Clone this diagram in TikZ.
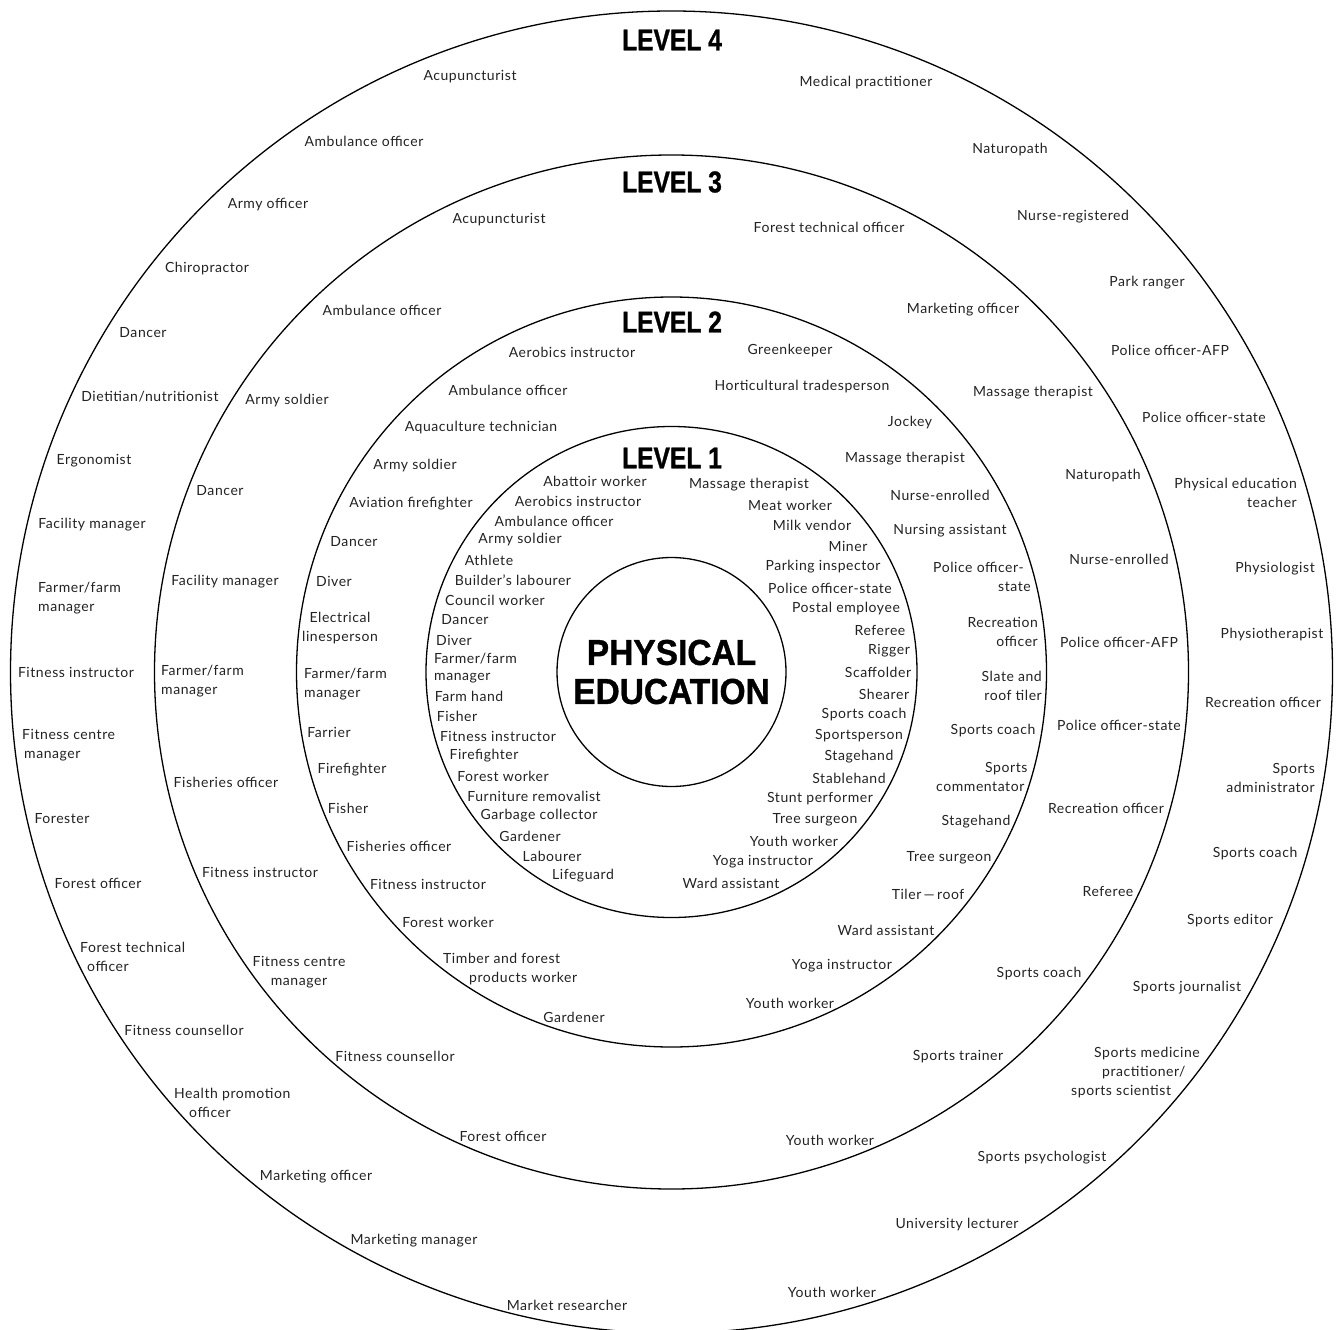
\documentclass[tikz,border=0pt]{standalone}
\usepackage{fontspec}
\newfontfamily\jobfont{Lato}[LetterSpace=4]
\newfontfamily\lvfont{Liberation Sans}[FakeStretch=0.82,FakeBold=1]
\newfontfamily\pefont{Liberation Sans}[FakeStretch=0.93,FakeBold=1]
\definecolor{txt}{HTML}{222222}
\tikzset{
  ring/.style={draw=black, line width=1.3pt, circle, inner sep=0pt},
  lbl/.style={inner sep=0pt, text=txt, font={\jobfont\fontsize{14}{19}\selectfont}},
  lbla/.style={lbl, align=left},
  lblr/.style={lbl, align=right},
  lblc/.style={lbl, align=center},
  lvl/.style={inner sep=0pt, text=black, font={\lvfont\bfseries\fontsize{30}{30}\selectfont}},
  core/.style={ring, minimum size=229pt, align=center, font={\pefont\bfseries\fontsize{36}{39}\selectfont}}
}
\begin{document}
\begin{tikzpicture}[x=1pt,y=-1pt]
\useasboundingbox (0,0) rectangle (1337,1329);
\coordinate (ctr) at (671.5,672);
% rings
\node[ring, minimum size=1322pt] (r4) at (ctr) {};
\node[ring, minimum size=1034pt] (r3) at (ctr) {};
\node[ring, minimum size=750pt] (r2) at (ctr) {};
\node[ring, minimum size=491pt] (r1) at (ctr) {};
\node[core] (pe) at (ctr) {PHYSICAL\\EDUCATION};
% level titles
\node[lvl] (t4) at (672,40) {LEVEL 4};
\node[lvl] (t3) at (672,182) {LEVEL 3};
\node[lvl] (t2) at (672,322) {LEVEL 2};
\node[lvl] (t1) at (672,458) {LEVEL 1};
% ---------- Level 4 ----------
\node[lbl] (a1) at (470,77) {Acupuncturist};
\node[lbl] (a2) at (866,83) {Medical practitioner};
\node[lbl] (a3) at (364,141) {Ambulance officer};
\node[lbl] (a4) at (1010,150) {Naturopath};
\node[lbl] (a5) at (268,205) {Army officer};
\node[lbl] (a6) at (1073,217) {Nurse-registered};
\node[lbl] (a7) at (207,269) {Chiropractor};
\node[lbl] (a8) at (1147,283) {Park ranger};
\node[lbl] (a9) at (143,333) {Dancer};
\node[lbl] (a10) at (1170,350) {Police officer-AFP};
\node[lbl] (a11) at (150,397) {Dietitian/nutritionist};
\node[lbl] (a12) at (1204,417) {Police officer-state};
\node[lbl] (a13) at (94,461) {Ergonomist};
\node[lblr, anchor=east] (a14) at (1297,492.5) {Physical education\\teacher};
\node[lbl] (a15) at (92,525) {Facility manager};
\node[lbl] (a16) at (1275,569) {Physiologist};
\node[lbla, anchor=west] (a17) at (38,598.5) {Farmer/farm\\manager};
\node[lbl] (a18) at (1272,635) {Physiotherapist};
\node[lbl] (a19) at (76,672) {Fitness instructor};
\node[lbl] (a20) at (1263,702) {Recreation officer};
\node[lbla, anchor=west] (a21) at (22,745.5) {Fitness centre\\\hspace*{2pt}manager};
\node[lblr, anchor=east] (a22) at (1315,778) {Sports\\administrator};
\node[lbl] (a23) at (62,819) {Forester};
\node[lbl] (a24) at (1255,854) {Sports coach};
\node[lbl] (a25) at (98,883) {Forest officer};
\node[lbl] (a26) at (1230,921) {Sports editor};
\node[lbla, anchor=west] (a27) at (80,956.5) {Forest technical\\\hspace*{7pt}officer};
\node[lbl] (a28) at (1187,988) {Sports journalist};
\node[lbl] (a29) at (184,1030) {Fitness counsellor};
\node[lbla, anchor=west] (a30) at (1071,1073) {\hspace*{23pt}Sports medicine\\\hspace*{31pt}practitioner/\\sports scientist};
\node[lbla, anchor=west] (a31) at (174,1103) {Health promotion\\\hspace*{15pt}officer};
\node[lbl] (a32) at (1042,1158) {Sports psychologist};
\node[lbl] (a33) at (316,1177) {Marketing officer};
\node[lbl] (a34) at (957,1225) {University lecturer};
\node[lbl] (a35) at (414,1241) {Marketing manager};
\node[lbl] (a36) at (832,1292) {Youth worker};
\node[lbl] (a37) at (567,1305) {Market researcher};
% ---------- Level 3 ----------
\node[lbl] (b1) at (499,220) {Acupuncturist};
\node[lbl] (b2) at (829,227) {Forest technical officer};
\node[lbl] (b3) at (382,310) {Ambulance officer};
\node[lbl] (b4) at (963,310) {Marketing officer};
\node[lbl] (b5) at (1033,393) {Massage therapist};
\node[lbl] (b6) at (287,401) {Army soldier};
\node[lbl] (b7) at (1103,476) {Naturopath};
\node[lbl] (b8) at (220,491) {Dancer};
\node[lbl] (b9) at (1119,559) {Nurse-enrolled};
\node[lbl] (b10) at (225,582) {Facility manager};
\node[lbl] (b11) at (1119,642) {Police officer-AFP};
\node[lbla, anchor=west] (b12) at (161,681.5) {Farmer/farm\\manager};
\node[lbl] (b13) at (1119,725) {Police officer-state};
\node[lbl] (b14) at (226,782) {Fisheries officer};
\node[lbl] (b15) at (1106,808) {Recreation officer};
\node[lbl] (b16) at (260,872) {Fitness instructor};
\node[lbl] (b17) at (1108,891) {Referee};
\node[lblc] (b18) at (299,972) {Fitness centre\\manager};
\node[lbl] (b19) at (1039,974) {Sports coach};
\node[lbl] (b20) at (395,1056) {Fitness counsellor};
\node[lbl] (b21) at (958,1057) {Sports trainer};
\node[lbl] (b22) at (503,1136) {Forest officer};
\node[lbl] (b23) at (830,1140) {Youth worker};
% ---------- Level 2 ----------
\node[lbl] (c1) at (572,352) {Aerobics instructor};
\node[lbl] (c2) at (790,351) {Greenkeeper};
\node[lbl] (c3) at (508,390) {Ambulance officer};
\node[lbl] (c4) at (802,387) {Horticultural tradesperson};
\node[lbl] (c5) at (481,428) {Aquaculture technician};
\node[lbl] (c6) at (910,423) {Jockey};
\node[lbl] (c7) at (415,466) {Army soldier};
\node[lbl] (c8) at (905,459) {Massage therapist};
\node[lbl] (c9) at (411,504) {Aviation firefighter};
\node[lbl] (c10) at (940,495) {Nurse-enrolled};
\node[lbl] (c11) at (354,542) {Dancer};
\node[lbl] (c12) at (950,531) {Nursing assistant};
\node[lbl] (c13) at (334,581) {Diver};
\node[lbla, anchor=west] (c14) at (933,576.5) {Police officer-\\\hspace*{65pt}state};
\node[lblc] (c15) at (340,628) {Electrical\\linesperson};
\node[lblr, anchor=east] (c16) at (1038,631.5) {Recreation\\officer};
\node[lbla, anchor=west] (c17) at (304,684.5) {Farmer/farm\\manager};
\node[lblr, anchor=east] (c18) at (1042,686) {Slate and\\roof tiler};
\node[lbl] (c19) at (329,732) {Farrier};
\node[lbl] (c20) at (993,731) {Sports coach};
\node[lbl] (c21) at (352,770) {Firefighter};
\node[lbla, anchor=west] (c22) at (936,776.5) {\hspace*{49pt}Sports\\commentator};
\node[lbl] (c23) at (348,808) {Fisher};
\node[lbl] (c24) at (976,822) {Stagehand};
\node[lbl] (c25) at (399,846) {Fisheries officer};
\node[lbl] (c26) at (949,858) {Tree surgeon};
\node[lbl] (c27) at (428,884) {Fitness instructor};
\node[lbl] (c28) at (928,894) {Tiler\,—\,roof};
\node[lbl] (c29) at (448,922) {Forest worker};
\node[lbl] (c30) at (886,930) {Ward assistant};
\node[lbla, anchor=west] (c31) at (443,969.5) {Timber and forest\\\hspace*{26pt}products worker};
\node[lbl] (c32) at (842,966) {Yoga instructor};
\node[lbl] (c33) at (790,1003) {Youth worker};
\node[lbl] (c34) at (574,1017) {Gardener};
% ---------- Level 1 ----------
\node[lbl] (d1) at (595,481) {Abattoir worker};
\node[lbl] (d2) at (578,501) {Aerobics instructor};
\node[lbl] (d3) at (554,521) {Ambulance officer};
\node[lbl] (d4) at (520,540) {Army soldier};
\node[lbl] (d5) at (489,560) {Athlete};
\node[lbl] (d6) at (513,580) {Builder’s labourer};
\node[lbl] (d7) at (495,600) {Council worker};
\node[lbl] (d8) at (465,620) {Dancer};
\node[lbl] (d9) at (454,640) {Diver};
\node[lbla, anchor=west, font={\jobfont\fontsize{14}{17}\selectfont}] (d10) at (434,668) {Farmer/farm\\manager};
\node[lbl] (d11) at (469,696) {Farm hand};
\node[lbl] (d12) at (457,716) {Fisher};
\node[lbl] (d13) at (498,736) {Fitness instructor};
\node[lbl] (d14) at (484,756) {Firefighter};
\node[lbl] (d15) at (503,776) {Forest worker};
\node[lbl] (d16) at (534,796) {Furniture removalist};
\node[lbl] (d17) at (539,816) {Garbage collector};
\node[lbl] (d18) at (530,836) {Gardener};
\node[lbl] (d19) at (552,856) {Labourer};
\node[lbl] (d20) at (583,876) {Lifeguard};
\node[lbl] (e1) at (749,485) {Massage therapist};
\node[lbl] (e2) at (790,505) {Meat worker};
\node[lbl] (e3) at (812,525) {Milk vendor};
\node[lbl] (e4) at (848,546) {Miner};
\node[lbl] (e5) at (823,567) {Parking inspector};
\node[lbl] (e6) at (830,588) {Police officer-state};
\node[lbl] (e7) at (846,609) {Postal employee};
\node[lbl] (e8) at (880,630) {Referee};
\node[lbl] (e9) at (889,651) {Rigger};
\node[lbl] (e10) at (878,672) {Scaffolder};
\node[lbl] (e11) at (884,694) {Shearer};
\node[lbl] (e12) at (864,715) {Sports coach};
\node[lbl] (e13) at (859,736) {Sportsperson};
\node[lbl] (e14) at (859,757) {Stagehand};
\node[lbl] (e15) at (849,778) {Stablehand};
\node[lbl] (e16) at (820,799) {Stunt performer};
\node[lbl] (e17) at (815,820) {Tree surgeon};
\node[lbl] (e18) at (794,841) {Youth worker};
\node[lbl] (e19) at (763,862) {Yoga instructor};
\node[lbl] (e20) at (731,883) {Ward assistant};
\end{tikzpicture}
\end{document}
